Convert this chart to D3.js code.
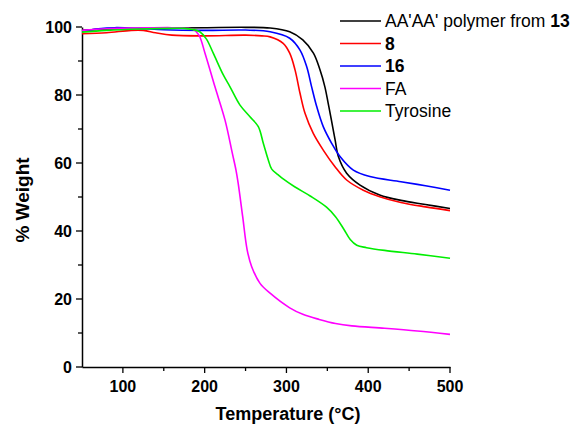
<!DOCTYPE html>
<html><head><meta charset="utf-8">
<script src="https://cdn.jsdelivr.net/npm/d3@7"></script>
<style>body{margin:0;background:#fff}svg{display:block}text{font-family:"Liberation Sans",Arial,sans-serif;fill:#000}</style>
</head><body><svg id="c" width="576" height="425"></svg>
<script>
const seriesNames = ["AA'AA' polymer from ", "8", "16", "FA", "Tyrosine"];
const seriesColors = ["#000000", "#ff0000", "#0000ff", "#ff00ff", "#00ee00"];
const xTicks = [100, 200, 300, 400, 500];
const yTicks = [0, 20, 40, 60, 80, 100];

const polymer13 = [[50,99.0],[70,99.3],[100,99.5],[150,99.7],[200,99.8],[250,99.9],[280,99.7],[304,98.6],[320,96.2],[333,92.3],[341,87.4],[347,82.4],[351,77.6],[355,72.6],[359.5,66.8],[363.5,61.9],[373.6,57],[390,53.5],[414,50.6],[440,49],[470,47.8],[500,46.6]];
const s8 = [[50,98],[80,98.3],[110,99],[125,99],[140,98.3],[160,97.6],[200,97.4],[250,97.6],[270,97.4],[280,97.1],[296,95.2],[304,92.3],[310.5,87.4],[316.6,80.5],[322.7,74.6],[332.8,68.7],[345,63.8],[359.4,58.9],[373.6,55],[394,52],[414,50.1],[440,48.4],[470,47.1],[500,46]];
const s16 = [[50,98.8],[70,99.5],[90,99.8],[120,99.6],[150,99.2],[200,99.0],[250,99.1],[280,98.6],[304,96.7],[316.6,93.2],[324.8,88.3],[330.8,82.4],[337,76.6],[345,70.7],[355.3,65.8],[365.5,61.9],[381.8,57.9],[402,56],[440,54.5],[470,53.3],[500,52]];
const fa = [[50,99],[80,99.5],[120,99.7],[160,99.8],[180,99.6],[186,99.3],[193,97.6],[200.4,92.3],[212.6,82.4],[224.9,72.6],[233.8,62.9],[238.3,57.9],[241,54],[246.5,44.2],[252,34.4],[257.5,29.5],[267.7,24.6],[280,21.7],[304,17.4],[320,15.5],[340,14],[360,12.8],[380,12.1],[420,11.4],[460,10.6],[500,9.6]];
const tyrosine = [[50,98.5],[80,99],[120,99.4],[160,99.6],[175,99.6],[185,99.3],[194,98.6],[202,96.5],[210.5,92.3],[222.8,85.9],[231,82.4],[243,77.1],[255.4,73.6],[265.6,70.7],[271.7,65.8],[277.8,60.9],[282,58.2],[290,56.5],[296,55.3],[310,53],[329,50.3],[349,47],[360,44.2],[370,40.6],[378,37.5],[386,35.8],[398,35.1],[420,34.3],[460,33.2],[500,32]];
const seriesData = [polymer13, s8, s16, fa, tyrosine];

const svg = d3.select("#c");
const x = d3.scaleLinear().domain([50, 500]).range([82, 450]);
const y = d3.scaleLinear().domain([0, 100]).range([367, 27]);

// x axis
const gx = svg.append("g").attr("transform", "translate(0,367)");
gx.call(d3.axisBottom(x).tickValues([]).tickSize(0));
gx.select(".domain").attr("stroke", "#000").attr("stroke-width", 1.5);
gx.selectAll(".tk").data(d3.range(100, 501, 50)).join("line").attr("class", "tk")
  .attr("x1", d => x(d)).attr("x2", d => x(d)).attr("y1", 0).attr("y2", d => d % 100 === 0 ? 6 : 4)
  .attr("stroke", "#000").attr("stroke-width", 1.3);
gx.selectAll(".lb").data(xTicks).join("text").attr("class", "lb")
  .attr("x", d => x(d)).attr("y", 25).attr("text-anchor", "middle").attr("fill", "#000")
  .attr("font-size", 16).attr("font-weight", "bold").text(d => d);

// y axis
const gy = svg.append("g").attr("transform", "translate(82,0)");
gy.call(d3.axisLeft(y).tickValues([]).tickSize(0));
gy.select(".domain").attr("stroke", "#000").attr("stroke-width", 1.5);
gy.selectAll(".tk").data(d3.range(0, 101, 10)).join("line").attr("class", "tk")
  .attr("y1", d => y(d)).attr("y2", d => y(d)).attr("x1", 0).attr("x2", d => d % 20 === 0 ? -6 : -4)
  .attr("stroke", "#000").attr("stroke-width", 1.3);
gy.selectAll(".lb").data(yTicks).join("text").attr("class", "lb")
  .attr("x", -10).attr("y", d => y(d)).attr("dy", "0.36em").attr("text-anchor", "end").attr("fill", "#000")
  .attr("font-size", 16).attr("font-weight", "bold").text(d => d);

// titles
svg.append("text").attr("x", 288).attr("y", 420).attr("text-anchor", "middle")
  .attr("font-size", 18).attr("font-weight", "bold").text("Temperature (\u00B0C)");
svg.append("text").attr("transform", "translate(29,200) rotate(-90)").attr("text-anchor", "middle")
  .attr("font-size", 19).attr("font-weight", "bold").text("% Weight");

// lines
const line = d3.line().x(d => x(d[0])).y(d => y(d[1])).curve(d3.curveCatmullRom.alpha(0.5));
seriesData.forEach((s, i) => {
  svg.append("path").datum(s).attr("d", line).attr("fill", "none")
    .attr("stroke", seriesColors[i]).attr("stroke-width", 1.6);
});

// legend
const lg = svg.append("g");
seriesNames.forEach((n, i) => {
  const yy = 21 + i * 22.5;
  lg.append("line").attr("x1", 340).attr("x2", 381).attr("y1", yy).attr("y2", yy)
    .attr("stroke", seriesColors[i]).attr("stroke-width", 1.6);
  const t = lg.append("text").attr("x", 385).attr("y", yy).attr("dy", "0.36em").attr("font-size", 17.5);
  if (i === 0) {
    t.append("tspan").text(n);
    t.append("tspan").attr("font-weight", "bold").text("13");
  } else if (i === 1 || i === 2) {
    t.attr("font-weight", "bold").text(n);
  } else {
    t.text(n);
  }
});
</script></body></html>
